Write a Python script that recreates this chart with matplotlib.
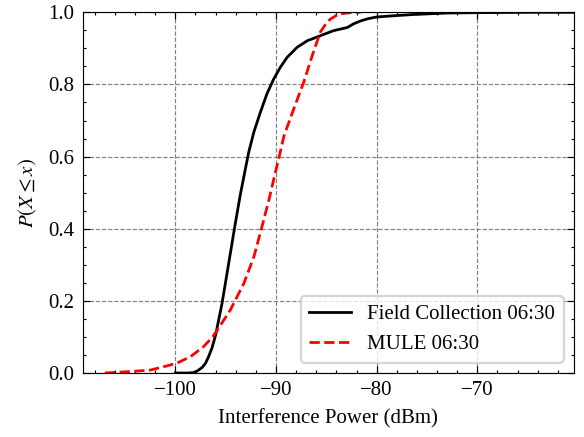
import matplotlib
matplotlib.use("Agg")
import matplotlib.pyplot as plt
from matplotlib.ticker import MultipleLocator

# Data
field_x = [-100.0, -98.8, -98.2, -97.8, -97.35, -97.0, -96.7, -96.35, -96.0, -95.36, -94.7,
           -94.04, -93.54, -93.04, -92.71, -92.2, -91.55, -90.9, -90.23, -89.56, -88.9,
           -87.9, -86.9, -85.6, -84.3, -82.9, -82.3, -81.6, -80.9, -80.0, -78.0, -76.3,
           -73.0, -70.0, -65.0, -60.4]
field_y = [0.0, 0.0, 0.001, 0.006, 0.015, 0.027, 0.045, 0.07, 0.105, 0.193, 0.304,
           0.415, 0.495, 0.566, 0.612, 0.668, 0.723, 0.774, 0.815, 0.848, 0.875,
           0.903, 0.921, 0.935, 0.949, 0.958, 0.968, 0.976, 0.982, 0.987, 0.991, 0.994,
           0.998, 0.999, 1.0, 1.0]

mule_x = [-107.0, -104.5, -102.5, -100.8, -99.8, -98.5, -97.2, -96.3, -95.85, -94.53,
          -93.2, -92.2, -91.4, -90.7, -90.2, -89.6, -89.2, -88.24, -87.25, -86.4,
          -85.6, -85.0, -84.6, -83.8, -82.3, -81.6]
mule_y = [0.0, 0.004, 0.008, 0.02, 0.028, 0.045, 0.073, 0.1, 0.118, 0.175,
          0.248, 0.322, 0.405, 0.48, 0.54, 0.61, 0.658, 0.732, 0.806, 0.88,
          0.945, 0.97, 0.981, 0.995, 1.0, 1.0]

labels = ["Field Collection 06:30", "MULE 06:30"]

plt.rcParams.update({
    "font.family": "serif",
    "font.serif": ["Liberation Serif", "DejaVu Serif"],
    "mathtext.fontset": "stix",
    "font.size": 9,
    "axes.linewidth": 0.5,
    "xtick.direction": "in", "ytick.direction": "in",
    "xtick.top": True, "ytick.right": True,
    "xtick.minor.visible": True, "ytick.minor.visible": True,
    "xtick.major.size": 3, "ytick.major.size": 3,
    "xtick.minor.size": 1.5, "ytick.minor.size": 1.5,
    "xtick.major.width": 0.5, "ytick.major.width": 0.5,
    "xtick.minor.width": 0.5, "ytick.minor.width": 0.5,
    "lines.linewidth": 1.0,
})

fig = plt.figure(figsize=(3.5, 437 / 166.86), dpi=166.86)
ax = fig.add_axes([82.7 / 584, 64 / 437, (574 - 82.7) / 584, (373 - 12.3) / 437])

ax.plot(field_x, field_y, color="black", linestyle="-", linewidth=1.2, label=labels[0])
ax.plot(mule_x, mule_y, color="red", linestyle="--", linewidth=1.2, label=labels[1])

ax.set_xlim(-109.2, -60.4)
ax.set_ylim(0, 1.0)
ax.xaxis.set_major_locator(MultipleLocator(10))
ax.xaxis.set_minor_locator(MultipleLocator(2))
ax.yaxis.set_major_locator(MultipleLocator(0.2))
ax.yaxis.set_minor_locator(MultipleLocator(0.05))
ax.grid(True, which="major", linestyle="--", color="gray", linewidth=0.5)

ax.set_xlabel("Interference Power (dBm)")
ax.set_ylabel(r"$P(X \leq x)$")
ax.legend(loc="lower right", frameon=True, fancybox=True, edgecolor="0.8", framealpha=0.8)

fig.savefig("out.png", dpi=166.86)
